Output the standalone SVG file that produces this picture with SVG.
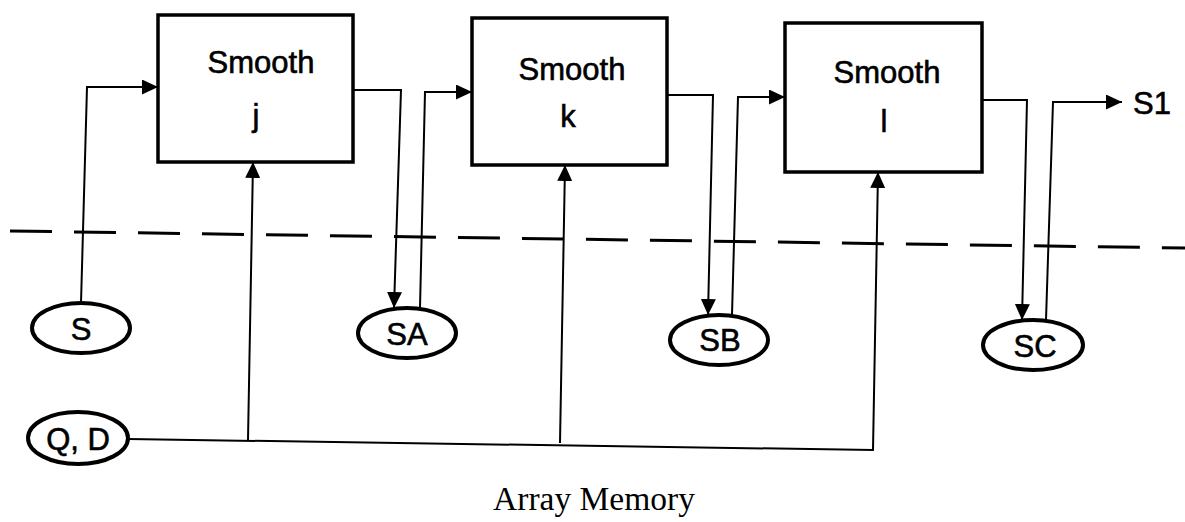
<svg xmlns="http://www.w3.org/2000/svg" width="1185" height="522" viewBox="0 0 1185 522">
<style>
.box{fill:#fff;stroke:#000;stroke-width:3.5}
.ell{fill:#fff;stroke:#000;stroke-width:4}
.con{fill:none;stroke:#000;stroke-width:2}
.t{font-family:"Liberation Sans",Arial,sans-serif;font-size:31px;fill:#000;stroke:#000;stroke-width:0.6;text-anchor:middle}
.cap{font-family:"Liberation Serif","Times New Roman",serif;font-size:33.5px;fill:#000;text-anchor:middle}
</style>
<defs>
<marker id="ah" markerUnits="userSpaceOnUse" markerWidth="17" markerHeight="15" refX="16" refY="7.5" orient="auto">
<path d="M0,0 L16,7.5 L0,15 z" fill="#000"/>
</marker>
</defs>
<line x1="10" y1="231" x2="1185" y2="248" stroke="#000" stroke-width="3" stroke-dasharray="42 22"/>
<g id="connectors">
<path class="con" d="M81,303 L87,87 L158,87" marker-end="url(#ah)"/>
<path class="con" d="M128,439 L873,450 L878,172" marker-end="url(#ah)"/>
<path class="con" d="M248,440 L253,162" marker-end="url(#ah)"/>
<path class="con" d="M560,443 L565,165" marker-end="url(#ah)"/>
<path class="con" d="M353,90 L401,90 L394,308" marker-end="url(#ah)"/>
<path class="con" d="M420,308 L425,92 L472,92" marker-end="url(#ah)"/>
<path class="con" d="M667,95 L713,95 L708,315" marker-end="url(#ah)"/>
<path class="con" d="M732,315 L738,97 L785,97" marker-end="url(#ah)"/>
<path class="con" d="M982,100 L1027,100 L1022,320" marker-end="url(#ah)"/>
<path class="con" d="M1046,320 L1053,102 L1122,102" marker-end="url(#ah)"/>
</g>
<g id="smooth-j">
<rect class="box" x="158" y="15" width="195" height="147"/>
<text class="t" x="261" y="73" font-size="32.5">Smooth</text>
<text class="t" x="256" y="126">j</text>
</g>
<g id="smooth-k">
<rect class="box" x="472" y="18" width="195" height="147"/>
<text class="t" x="572" y="80" font-size="32.5">Smooth</text>
<text class="t" x="568" y="127">k</text>
</g>
<g id="smooth-l">
<rect class="box" x="785" y="23" width="197" height="149"/>
<text class="t" x="887" y="83" font-size="32.5">Smooth</text>
<text class="t" x="884" y="132">l</text>
</g>
<g id="S">
<ellipse class="ell" cx="81" cy="328" rx="49" ry="25"/>
<text class="t" x="81" y="340">S</text>
</g>
<g id="SA">
<ellipse class="ell" cx="407" cy="333" rx="49" ry="25"/>
<text class="t" x="407" y="345">SA</text>
</g>
<g id="SB">
<ellipse class="ell" cx="719" cy="340" rx="49" ry="25"/>
<text class="t" x="720" y="351">SB</text>
</g>
<g id="SC">
<ellipse class="ell" cx="1033" cy="345" rx="50" ry="25"/>
<text class="t" x="1035" y="357">SC</text>
</g>
<g id="QD">
<ellipse class="ell" cx="78" cy="438" rx="50" ry="26"/>
<text class="t" x="78" y="450">Q, D</text>
</g>
<g id="S1">
<text class="t" x="1152" y="114" font-size="30">S1</text>
</g>
<text class="cap" x="594" y="510">Array Memory</text>
</svg>
